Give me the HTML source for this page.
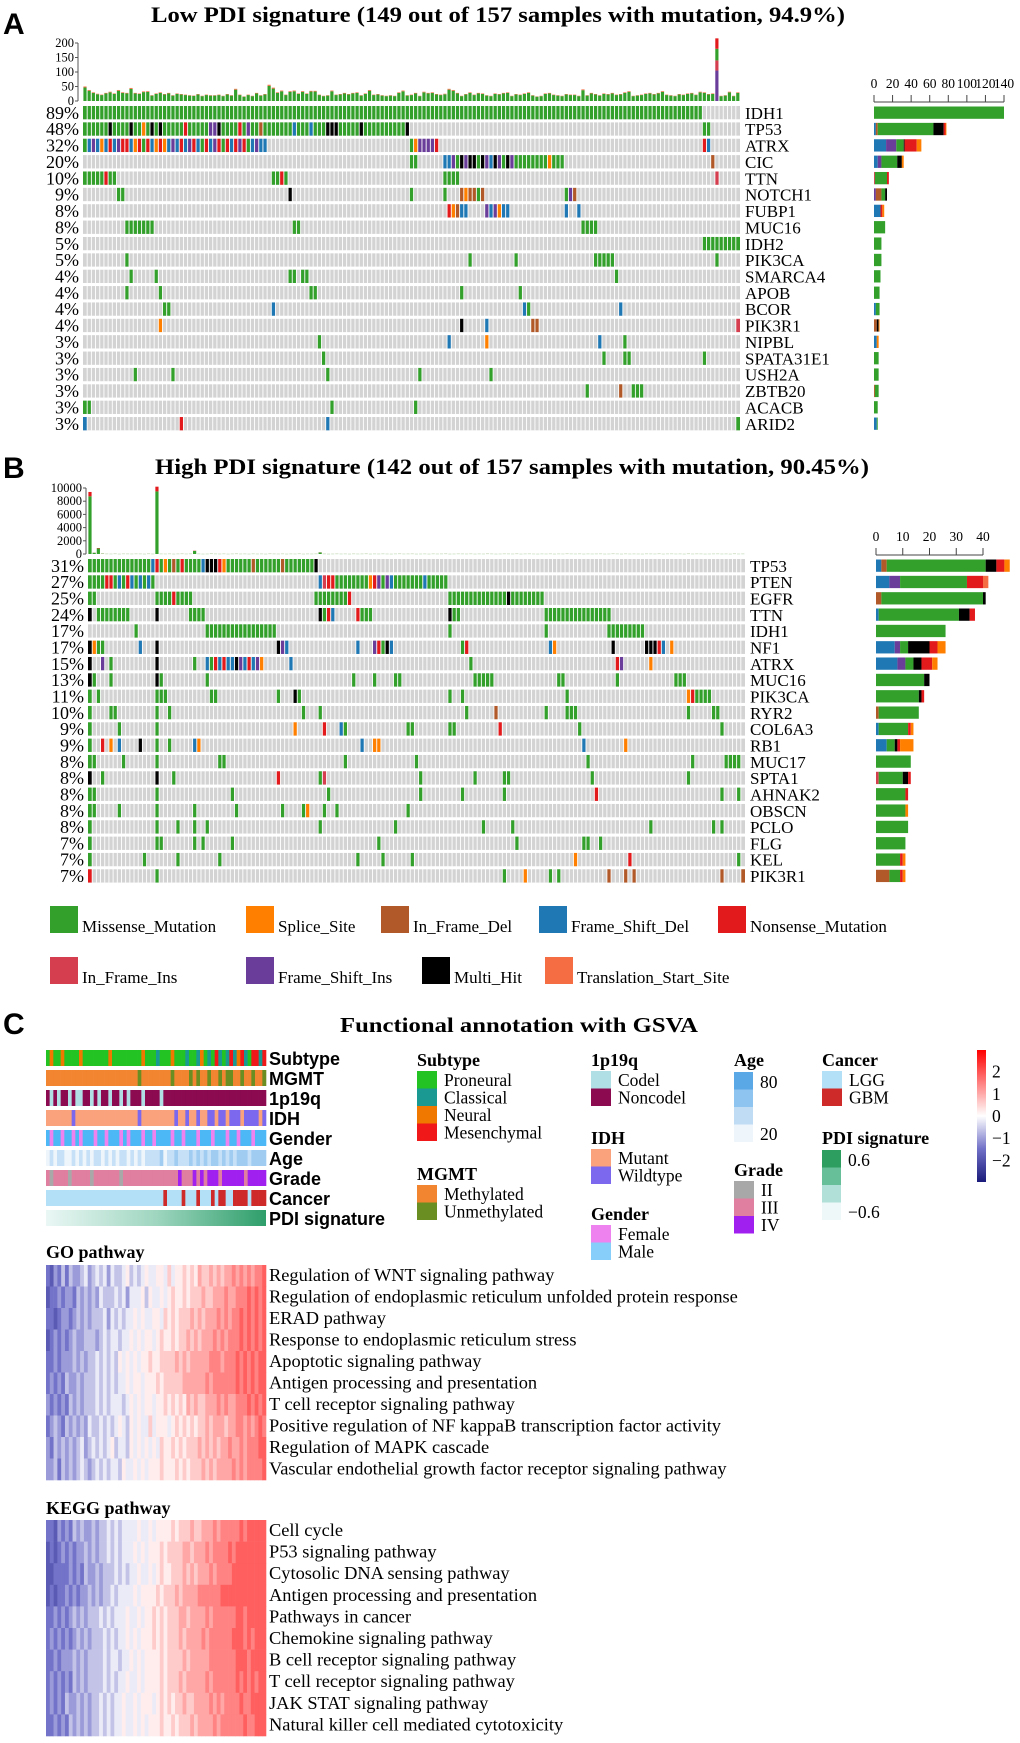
<!DOCTYPE html>
<html><head><meta charset="utf-8"><style>
html,body{margin:0;padding:0;background:#fff;}
svg{display:block;}
text{font-family:"Liberation Serif",serif;}
.sans{font-family:"Liberation Sans",sans-serif;}
</style></head><body>
<svg id="fig" xmlns="http://www.w3.org/2000/svg" width="1020" height="1743" viewBox="0 0 1020 1743">
<defs>
<linearGradient id="pdiGrad" x1="0" x2="1" y1="0" y2="0"><stop offset="0" stop-color="#eaf7f5"/><stop offset="0.5" stop-color="#9fd6c0"/><stop offset="1" stop-color="#2e9e6a"/></linearGradient>
<linearGradient id="cbarGrad" x1="0" x2="0" y1="0" y2="1"><stop offset="0" stop-color="#ff0000"/><stop offset="0.25" stop-color="#ff8080"/><stop offset="0.5" stop-color="#ffffff"/><stop offset="0.75" stop-color="#7070c8"/><stop offset="1" stop-color="#1a1a7a"/></linearGradient>
</defs>
<text x="3" y="34" class="sans" font-size="30" font-weight="bold">A</text>
<text x="498" y="22" font-size="22" font-weight="bold" text-anchor="middle" textLength="694" lengthAdjust="spacingAndGlyphs">Low PDI signature (149 out of 157 samples with mutation, 94.9%)</text>
<text x="3" y="478" class="sans" font-size="30" font-weight="bold">B</text>
<text x="512" y="474" font-size="22" font-weight="bold" text-anchor="middle" textLength="714" lengthAdjust="spacingAndGlyphs">High PDI signature (142 out of 157 samples with mutation, 90.45%)</text>
<text x="3" y="1034" class="sans" font-size="30" font-weight="bold">C</text>
<text x="519" y="1032" font-size="21" font-weight="bold" text-anchor="middle" textLength="358" lengthAdjust="spacingAndGlyphs">Functional annotation with GSVA</text>
</svg>
<script>
// ---------- DATA ----------
const typeColors = {M:'#33a02c',S:'#ff7f00',D:'#b15928',F:'#1f78b4',N:'#e31a1c',I:'#d53e4f',P:'#6a3d9a',X:'#000000',T:'#f46d43'};
const typeNames = {M:'Missense_Mutation',S:'Splice_Site',D:'In_Frame_Del',F:'Frame_Shift_Del',N:'Nonsense_Mutation',I:'In_Frame_Ins',P:'Frame_Shift_Ins',X:'Multi_Hit',T:'Translation_Start_Site'};

const genesA = ['IDH1','TP53','ATRX','CIC','TTN','NOTCH1','FUBP1','MUC16','IDH2','PIK3CA','SMARCA4','APOB','BCOR','PIK3R1','NIPBL','SPATA31E1','USH2A','ZBTB20','ACACB','ARID2'];
const pctA = ['89%','48%','32%','20%','10%','9%','8%','8%','5%','5%','4%','4%','4%','4%','3%','3%','3%','3%','3%','3%'];
const mutA = [
"0-147:M",
"0-77:M 6:X 11:X 14:S 16:X 18:X 24:N 30:P 31:P 32:X 37:N 39:P 42:D 50:F 54:F 58-60:X 66:X 77:X 148-149:M",
"0:M 1:F 2:P 3:F 4:S 5:F 6:N 7:F 8:P 9:N 10:N 11:F 12:S 13:N 14:M 15:N 16:F 17:S 18:N 19:S 20:F 21:P 22:F 23:N 24:F 25:P 26:N 27:F 28:M 29:N 30:F 31:P 32:N 33:M 34:N 35:F 36:N 37:P 38:N 39:M 40:F 41:P 42:F 43:F 78:M 79:S 80:P 81:P 82:P 83:P 84:N 148:N 149:F",
"78-79:M 86:F 87:F 88:P 89:M 90:X 91:P 92:X 93:X 94:M 95:X 96:P 97:F 98:X 99:P 100:M 101:X 102:P 103-114:M 111:S 150:D",
"0-7:M 5:N 45-48:M 47:N 86-89:M 151:I",
"8-9:M 49:X 78:M 86:M 90:D 91:S 92:D 93:D 94:M 95:D 115:M 116:P 117:D",
"87:N 88:S 89:D 90-91:F 96:P 97:F 98:P 99:S 100-101:F 115:F 118:F",
"10-16:M 50-51:M 119-122:M",
"148-156:M",
"10:M 92:M 103:M 122-126:M 151:M",
"11:M 17:M 49-50:M 52-53:M 127:M",
"10:M 18:M 54-55:M 90:M 104:M",
"19-20:M 45:F 105:F 106:M 128:F",
"18:S 90:X 96:F 107-108:D 156:I",
"56:M 87:F 96:S 123:F 129:M",
"57:M 124:M 129-130:M 148:M",
"12:M 21:M 58:M 80:M 97:M",
"120:M 128:D 131-133:M",
"0-1:M 59:M 79:M",
"0:F 23:N 58:F 156:M"];
const barsA = ["M:140","F:2 D:2 M:60 X:11 N:2 S:1","F:13 P:11 M:8 X:1 N:13 S:5","F:4 P:4 M:17 X:5 S:2","I:1 M:13 N:2","P:2 D:6 M:4 X:2","F:7 N:2 S:2","M:12","M:8","M:8","M:7","M:6","F:2 M:4","D:3 X:2 S:1","F:3 S:2","M:5","M:5","D:1 M:4","M:4","F:3 M:1"];
const tmbA = [50,38,30,25,22,28,32,26,38,30, 28,45,28,26,33,34,20,26,30,24, 28,20,26,24,22,20,19,24,18,22, 20,20,22,18,24,20,42,22,16,22, 18,28,20,24,56,46,30,36,22,34, 36,26,34,26,35,35,22,18,20,36, 22,24,28,24,28,30,20,26,38,22, 24,20,18,20,18,30,36,20,22,28, 18,32,28,30,24,22,25,42,38,28, 18,24,30,22,28,26,20,18,26,24, 28,30,18,24,22,26,30,20,16,18, 26,28,22,20,18,24,22,22,18,40, 20,28,24,20,26,24,28,22,24,30, 34,18,20,22,26,28,24,28,34,22, 20,18,24,22,26,28,22,32,30,24, 26,216,18,20,32,18,30];
const spikeStackA = [['P',105],['I',35],['M',40],['N',36]];
const tmbTicksA = [0,50,100,150,200];
const barTicksA = [0,20,40,60,80,100,120,140];

const genesB = ['TP53','PTEN','EGFR','TTN','IDH1','NF1','ATRX','MUC16','PIK3CA','RYR2','COL6A3','RB1','MUC17','SPTA1','AHNAK2','OBSCN','PCLO','FLG','KEL','PIK3R1'];
const pctB = ['31%','27%','25%','24%','17%','17%','15%','13%','11%','10%','9%','9%','8%','8%','8%','8%','8%','7%','7%','7%'];
const mutB = [
"0-54:M 15:F 16:N 18:S 20:D 22:N 27:F 28-30:X 31:N 32:S 39:D 46:D 54:X",
"0-15:M 4:N 5:N 7:F 9:N 10:F 12:F 14:F 55:F 56:I 57:N 58:N 59-85:M 67:S 68:N 69:P 71:P 72:F 80:F",
"0-1:M 16-24:M 20:N 54-61:M 62:N 86-108:M 100:X",
"0:X 2-9:M 16:X 24-27:M 55:X 56:M 57:N 58:F 64:N 65-67:M 86:X 87-88:M 109-124:M",
"11:M 28-44:M 86:M 109:M 124-132:M",
"0:X 1:S 2-3:M 12:F 16:X 45:X 46:P 47:F 64:F 68:P 69:N 70:M 71:X 72:F 89:M 90:N 110:F 111:S 125:X 133-135:X 136:N 137:F 139:S",
"0:X 3:P 5:M 16:X 25:M 28:F 29:M 30:N 31:F 32:N 33:F 34:F 35:X 36:P 37:F 38:N 39:F 40:P 41:S 48:F 91:M 126:N 127:P 134:S",
"0:X 1:M 5:M 16:X 17:M 28:M 63:M 68:M 73-74:M 92-96:M 112-113:M 126:M 140-142:M",
"0:M 2:M 16-18:M 29-30:M 45:M 49:X 50:M 86:M 89:M 114:M 143:S 144:N 145-148:M",
"0:M 5-6:M 16:M 19:M 51:M 55:M 90:M 97:D 109:M 114-116:M 143:M 149-150:M",
"0:M 7:M 16:M 49:S 56:N 60:F 61:M 76-77:M 86-87:M 98:N 117:M 151:M",
"0:M 3:N 5:S 7:F 12:X 16:M 19:M 25:F 26:S 65:F 68-69:S 118:F 128:S",
"0-1:M 8:M 16:M 31-32:M 61:M 78:M 119:M 144:M 152-155:M",
"0:X 3:M 16:X 20:M 45:N 55:M 56:I 79:M 92:M 99-100:M 120:M 143:M",
"0-1:M 16:M 34:M 57:M 79:M 89:M 99:M 121:N 151:M 155:M",
"0-1:M 7:M 16:M 25:M 35:M 46:M 51:M 52:S 56:M 59:M 76:M",
"0:M 16:M 21:M 25:M 28:M 55:M 73:M 94:M 101:M 134:M 149:M 151:M",
"0:M 16-17:M 25:M 27:M 34:M 69:M 102:M 118-119:M 122:M",
"0:M 13:M 21:M 31:M 64:M 70:M 77:M 116:S 129:N 155:M",
"0:N 16:M 99:M 104:S 110:M 112:M 124:D 128:D 130:D 151:D 156:D"];
const barsB = ["F:2 D:2 M:37 X:4 N:3 S:2","F:5 P:4 M:25 N:6 T:2","D:2 M:38 X:1","F:1 M:30 X:4 N:2","M:26","F:7 P:2 M:3 X:8 N:3 S:3","F:8 P:3 M:3 X:3 N:4 S:2","M:18 X:2","M:16 X:1 N:1","D:1 M:15","F:1 M:11 N:1 S:1","F:4 M:3 X:1 N:1 S:5","M:13","I:1 M:9 X:2 N:1","M:11 N:1","M:11 S:1","M:12","M:11","M:9 N:1 S:1","D:5 M:4 N:1 S:1"];
const tmbB = [9400,200,900,150,60,50,80,40,70,60, 50,70,60,40,80,50,10200,60,50,70, 40,60,80,50,70,500,60,40,50,90, 60,50,70,40,60,80,50,60,40,70, 50,60,40,80,60,50,70,40,60,50, 80,40,60,50,70,250,60,40,50,70, 50,60,40,70,50,60,80,40,60,50, 70,50,40,60,80,50,60,70,40,50, 60,40,70,50,60,80,40,50,70,60, 50,70,40,60,50,80,60,40,50,70, 60,50,80,40,60,70,50,40,60,50, 70,40,60,50,80,60,50,70,40,60, 50,60,70,40,50,80,60,40,70,50, 60,50,40,70,60,50,80,40,60,70, 50,60,40,80,50,70,60,40,50,60, 70,50,60,40,80,50,60];
const tmbTicksB = [0,2000,4000,6000,8000,10000];
const barTicksB = [0,10,20,30,40];

const legendRow1 = ['M','S','D','F','N'];
const legendRow2 = ['I','P','X','T'];

// Panel C annotation tracks
const trackNames = ['Subtype','MGMT','1p19q','IDH','Gender','Age','Grade','Cancer','PDI signature'];
const subtypeTrack = "PNPPNPPPPNPPPPPPPNPPPPPPPPNPPPCPPPNPPPCPPCNPCPMCPCMCNMCPMMCM";
const mgmtTrack    = "MMMMMMMMMMMMMMMMMMMMMMMMMUMMMMMMMMUMMMMUMUMMUMMUMUUMMUMMUMMU";
const codelTrack   = "NCNCNNCNCCNNCNCNNCNNCNCNNNCNNNNCNNNNNNNNNNNNNNNNNNNNNNNNNNNN";
const idhTrack     = "MMMMMMMWMMMMMMMMMMMMMMMMMWMMMMMMMMMWMMWMMWMMWWMWWMWWWMWWWWMW";
const genderTrack  = "MFMMFMMFMFMMMFMMFMMMFMFMMMFMMFMMMMFMMFMMMFMMMFMMMFMMFMMMFMMM";
const ageTrack     = "121221121212122121212212121222231223222323232332323233323333";
const gradeTrack   = "323333233333233333332333333333333333433343434443444444344444";
const cancerTrack  = "LLLLLLLLLLLLLLLLLLLLLLLLLLLLLLLLGLLLLGLLLGLLLGLGGLLGGGGLGGGG";

const goNames = ['Regulation of WNT signaling pathway','Regulation of endoplasmic reticulum unfolded protein response','ERAD pathway','Response to endoplasmic reticulum stress','Apoptotic signaling pathway','Antigen processing and presentation','T cell receptor signaling pathway','Positive regulation of NF kappaB transcription factor activity','Regulation of MAPK cascade','Vascular endothelial growth factor receptor signaling pathway'];
const goValues = [
"1021313223423434243345343454455464556565766767677878787889",
"0112122132323243334342444535445456556566676677787788898989",
"1101221232323334243434454544554656566676767778787889898989",
"0121212322333234344344545455456556566767677787878889898989",
"1121222323233434343545454556556666767677777888788898989899",
"1212132232333434343445455455565666667777778788888898989899",
"2121213232333434344434545455455656565767667778787788898989",
"1232132323243343434543545446455545656565667677767788787898",
"2132323234234343453443545454546556565666767676778778788899",
"2231323234323434344354454545556555656566676767777878788889"];
const keggNames = ['Cell cycle','P53 signaling pathway','Cytosolic DNA sensing pathway','Antigen processing and presentation','Pathways in cancer','Chemokine signaling pathway','B cell receptor signaling pathway','T cell receptor signaling pathway','JAK STAT signaling pathway','Natural killer cell mediated cytotoxicity'];
const keggValues = [
"1102121323223233434344445445455556566676677787888889899999",
"0101212122323233434344454545556566667767778788889899999999",
"0011112121322323334343445445456556667676777878888999999999",
"0101121212232323343444454555565666767777888888999999999999",
"1121212323233343434445445455656566677677778788888899899999",
"1212121232323334343445454555656566676777787888888999898999",
"1121222323233334344344545455556566667677777888888899989999",
"1212121323233334343445445455556566676777778788888898989899",
"1212132232323343434454454555456565667667777878788889889999",
"1121213232323343434454454545556556566676777787888888988999"];
const cbarTicks = [2,1,0,-1,-2];

// ---------- DRAWING ----------
const NS='http://www.w3.org/2000/svg';
const svg=document.getElementById('fig');
function mk(tag, attrs, parent){ const e=document.createElementNS(NS,tag); for(const k in attrs) e.setAttribute(k,attrs[k]); (parent||svg).appendChild(e); return e; }
function txt(str, attrs, parent){ const e=mk('text',attrs,parent); e.textContent=str; return e; }
function parseMut(s){ const out={}; s.trim().split(/\s+/).forEach(tok=>{ const [r,t]=tok.split(':'); const p=r.split('-').map(Number); const a=p[0], b=p.length>1?p[1]:p[0]; for(let j=a;j<=b;j++) out[j]=t; }); return out; }
function parseBar(s){ return s.trim().split(/\s+/).map(tok=>{ const [t,n]=tok.split(':'); return [t,Number(n)]; }); }

const N=157;
function drawOnco(cfg){
  const g=mk('g',{});
  
  
  const cw=(cfg.x1-cfg.x0)/N;
  cfg.genes.forEach((gene,i)=>{
    const y=cfg.y0+i*cfg.pitch;
    const bg=mk('rect',{x:cfg.x0,y:y,width:cfg.x1-cfg.x0,height:cfg.h,fill:'#d3d3d3'},g);
    
    
    const muts=parseMut(cfg.muts[i]);
    for(const j in muts){
      const c=mk('rect',{x:cfg.x0+j*cw,y:y,width:cw,height:cfg.h,fill:typeColors[muts[j]]},g);
      
      
    }
    const pl=txt(cfg.pcts[i],{x:cfg.x0-4,y:y+cfg.h-0.5,'font-size':18,'text-anchor':'end'},g);
    
    
    const gl=txt(gene,{x:cfg.x1+5,y:y+cfg.h-0.5,'font-size':17},g);
    
    
  });
  const yEnd=cfg.y0+(cfg.genes.length-1)*cfg.pitch+cfg.h;
  let d='';
  for(let j=1;j<N;j++){ const x=(cfg.x0+j*cw).toFixed(2); d+='M'+x+' '+cfg.y0+'V'+yEnd; }
  const sep=mk('path',{d:d,stroke:'#ffffff','stroke-width':0.9,fill:'none'},g);
  
  

  const tg=mk('g',{},g);
  
  
  const tmax=cfg.tmbTicks[cfg.tmbTicks.length-1];
  const ty=v=>cfg.tBase-(v/tmax)*(cfg.tBase-cfg.tTop);
  const ax=mk('line',{x1:cfg.tAxisX,x2:cfg.tAxisX,y1:cfg.tTop,y2:cfg.tBase,stroke:'#555','stroke-width':1},tg);
  
  
  cfg.tmbTicks.forEach(t=>{
    const tk=mk('line',{x1:cfg.tAxisX-3,x2:cfg.tAxisX,y1:ty(t),y2:ty(t),stroke:'#555','stroke-width':1},tg);
    
    
    const tl=txt(String(t),{x:cfg.tAxisX-4,y:ty(t)+4,'font-size':12.5,'text-anchor':'end'},tg);
    
    
  });
  cfg.tmb.forEach((v,j)=>{
    const x=cfg.x0+j*cw+0.4, w=cw-1;
    if(cfg.stack && j===cfg.stackIdx){
      let acc=0;
      cfg.stack.forEach(([t,n])=>{
        const r=mk('rect',{x:x,y:ty(acc+n),width:w,height:ty(acc)-ty(acc+n),fill:typeColors[t]},tg);
        
        
        acc+=n;
      });
      return;
    }
    const capFrac=cfg.capFrac;
    const g1=v*(1-capFrac);
    const r=mk('rect',{x:x,y:ty(g1),width:w,height:Math.max(0.6,cfg.tBase-ty(g1)),fill:typeColors.M,opacity:v<tmax*0.02?0.35:1},tg);
    
    
    const r2=mk('rect',{x:x,y:ty(v),width:w,height:ty(g1)-ty(v),fill:cfg.capColor},tg);
    
    
  });

  const bg2=mk('g',{},g);
  
  
  const bmax=cfg.barTicks[cfg.barTicks.length-1];
  const bx=v=>cfg.bx0+(v/bmax)*(cfg.bx1-cfg.bx0);
  const bax=mk('line',{x1:bx(0),x2:bx(bmax),y1:cfg.bAxisY,y2:cfg.bAxisY,stroke:'#444','stroke-width':1},bg2);
  
  
  cfg.barTicks.forEach(t=>{
    const tk=mk('line',{x1:bx(t),x2:bx(t),y1:cfg.bAxisY-7,y2:cfg.bAxisY,stroke:'#444','stroke-width':1},bg2);
    
    
    const tl=txt(String(t),{x:bx(t),y:cfg.bLabelY,'font-size':13.5,'text-anchor':'middle'},bg2);
    
    
  });
  cfg.bars.forEach((s,i)=>{
    const y=cfg.y0+i*cfg.pitch+0.5;
    let acc=0;
    parseBar(s).forEach(([t,n])=>{
      const r=mk('rect',{x:bx(acc),y:y,width:bx(acc+n)-bx(acc),height:cfg.h-1,fill:typeColors[t]},bg2);
      
      
      acc+=n;
    });
  });
}

drawOnco({name:'panel-a',genes:genesA,pcts:pctA,muts:mutA,bars:barsA,tmb:tmbA,tmbTicks:tmbTicksA,barTicks:barTicksA,
  x0:83,x1:740,y0:106,pitch:16.37,h:13.3,tAxisX:78,tTop:43,tBase:101,stack:spikeStackA,stackIdx:151,capFrac:0.07,capColor:'#f46d43',
  bx0:874,bx1:1004,bAxisY:102,bLabelY:88});
drawOnco({name:'panel-b',genes:genesB,pcts:pctB,muts:mutB,bars:barsB,tmb:tmbB,tmbTicks:tmbTicksB,barTicks:barTicksB,
  x0:88,x1:745,y0:559,pitch:16.33,h:13.3,tAxisX:86,tTop:488,tBase:554,stack:null,stackIdx:-1,capFrac:0.07,capColor:'#e31a1c',
  bx0:876,bx1:983,bAxisY:555,bLabelY:541});

function legendItem(t,x,y){
  const r=mk('rect',{x:x,y:y,width:28,height:27,fill:typeColors[t]});
  
  
  const l=txt(typeNames[t],{x:x+32,y:y+26,'font-size':17},svg);
  
  
}
const lx1=[50,246,381,539,718], lx2=[50,246,422,545];
legendRow1.forEach((t,i)=>legendItem(t,lx1[i],906));
legendRow2.forEach((t,i)=>legendItem(t,lx2[i],957));

const annColors = {
  Subtype:{P:'#22c322',C:'#1a9993',N:'#f07800',M:'#f01818'},
  MGMT:{M:'#f28530',U:'#6b8e23'},
  '1p19q':{C:'#b0e0e6',N:'#8b0a50'},
  IDH:{M:'#f9a27c',W:'#7b68ee'},
  Gender:{F:'#ee82ee',M:'#4cb8f5'},
  Age:{1:'#eef5fb',2:'#c6e0f7',3:'#a0ccf2',4:'#5aa9e6'},
  Grade:{2:'#a8a8a8',3:'#e07fa0',4:'#a020f0'},
  Cancer:{L:'#b3e0f7',G:'#cf2a2a'}
};
const trackData = [subtypeTrack,mgmtTrack,codelTrack,idhTrack,genderTrack,ageTrack,gradeTrack,cancerTrack,null];
const TX0=46, TX1=266;
trackNames.forEach((nm,i)=>{
  const y=1050+i*20;
  const tg=mk('g',{});
  
  
  const s=trackData[i];
  if(s){
    const w=(TX1-TX0)/s.length;
    for(let j=0;j<s.length;j++){
      const r=mk('rect',{x:TX0+j*w,y:y,width:w+0.3,height:16,fill:annColors[nm][s[j]]},tg);
      
      
    }
  } else {
    const r=mk('rect',{x:TX0,y:y,width:TX1-TX0,height:16,fill:'url(#pdiGrad)'},tg);
    
    
  }
  const l=txt(nm,{x:269,y:y+15,'font-size':18,'font-weight':'bold','class':'sans'},tg);
  
  
});

function legendGroup(title,x,hy,items){
  const g=mk('g',{});
  
  
  const h=txt(title,{x:x,y:hy,'font-size':18,'font-weight':'bold'},g);
  
  
  items.forEach(([lab,col],k)=>{
    const y=hy+5+k*17.5;
    const r=mk('rect',{x:x,y:y,width:20,height:17.5,fill:col},g);
    
    
    const t=txt(lab,{x:x+27,y:y+15,'font-size':17.5},g);
    
    
  });
}
legendGroup('Subtype',417,1066,[['Proneural','#22c322'],['Classical','#1a9993'],['Neural','#f07800'],['Mesenchymal','#f01818']]);
legendGroup('MGMT',417,1180,[['Methylated','#f28530'],['Unmethylated','#6b8e23']]);
legendGroup('1p19q',591,1066,[['Codel','#b0e0e6'],['Noncodel','#8b0a50']]);
legendGroup('IDH',591,1144,[['Mutant','#f9a27c'],['Wildtype','#7b68ee']]);
legendGroup('Gender',591,1220,[['Female','#ee82ee'],['Male','#87cefa']]);
legendGroup('Grade',734,1176,[['II','#a8a8a8'],['III','#e07fa0'],['IV','#a020f0']]);
legendGroup('Cancer',822,1066,[['LGG','#b3e0f7'],['GBM','#cf2a2a']]);
function contLegend(title,x,hy,cols,labTop,labBot){
  const g=mk('g',{});
  
  
  const h=txt(title,{x:x,y:hy,'font-size':18,'font-weight':'bold'},g);
  
  
  cols.forEach((c,k)=>{
    const r=mk('rect',{x:x,y:hy+6+k*17.5,width:19,height:17.5,fill:c},g);
    
    
  });
  const t1=txt(labTop,{x:x+26,y:hy+22,'font-size':17.5},g);
  
  
  const t2=txt(labBot,{x:x+26,y:hy+74,'font-size':17.5},g);
  
  
}
contLegend('Age',734,1066,['#5aa9e6','#8ec4f0','#c0dcf5','#eef5fb'],'80','20');
contLegend('PDI signature',822,1144,['#2e9e60','#66bf99','#b0e0d8','#eef8f8'],'  0.6','\u22120.6');

const cbY0=1050, cbY1=1182, cbMax=2.97;
const cb=mk('rect',{x:977,y:cbY0,width:9,height:cbY1-cbY0,fill:'url(#cbarGrad)'});


cbarTicks.forEach(v=>{
  const y=cbY0+(cbMax-v)/(2*cbMax)*(cbY1-cbY0);
  const t=txt(v<0?'\u2212'+Math.abs(v):String(v),{x:992,y:y+6,'font-size':17.5},svg);
  
  
});

function mix(a,b,t){ return a.map((v,i)=>Math.round(v+(b[i]-v)*t)); }
function colorScale(v){
  const stops=[[-3,[26,26,122]],[-1.5,[112,112,200]],[0,[255,255,255]],[1.5,[255,128,128]],[3,[255,0,0]]];
  v=Math.max(-3,Math.min(3,v));
  for(let k=0;k<stops.length-1;k++){ if(v<=stops[k+1][0]){ const t=(v-stops[k][0])/(stops[k+1][0]-stops[k][0]); const c=mix(stops[k][1],stops[k+1][1],t); return 'rgb('+c.join(',')+')'; } }
  return 'rgb(255,0,0)';
}
function drawHeat(name,title,titleY,y0,y1,names,values){
  const g=mk('g',{});
  
  
  const h=txt(title,{x:46,y:titleY,'font-size':18,'font-weight':'bold'},g);
  
  
  const rh=(y1-y0)/names.length;
  values.forEach((s,i)=>{
    const w=(TX1-TX0)/s.length;
    for(let j=0;j<s.length;j++){
      const v=(Number(s[j])-4.5)*0.42;
      const r=mk('rect',{x:TX0+j*w,y:y0+i*rh,width:w+0.3,height:rh+0.3,fill:colorScale(v)},g);
      
      
    }
    const l=txt(names[i],{x:269,y:y0+i*rh+16,'font-size':18.4},g);
    
    
  });
}
drawHeat('go','GO pathway',1258,1265,1480,goNames,goValues);
drawHeat('kegg','KEGG pathway',1514,1520,1736,keggNames,keggValues);
</script>
</body></html>
